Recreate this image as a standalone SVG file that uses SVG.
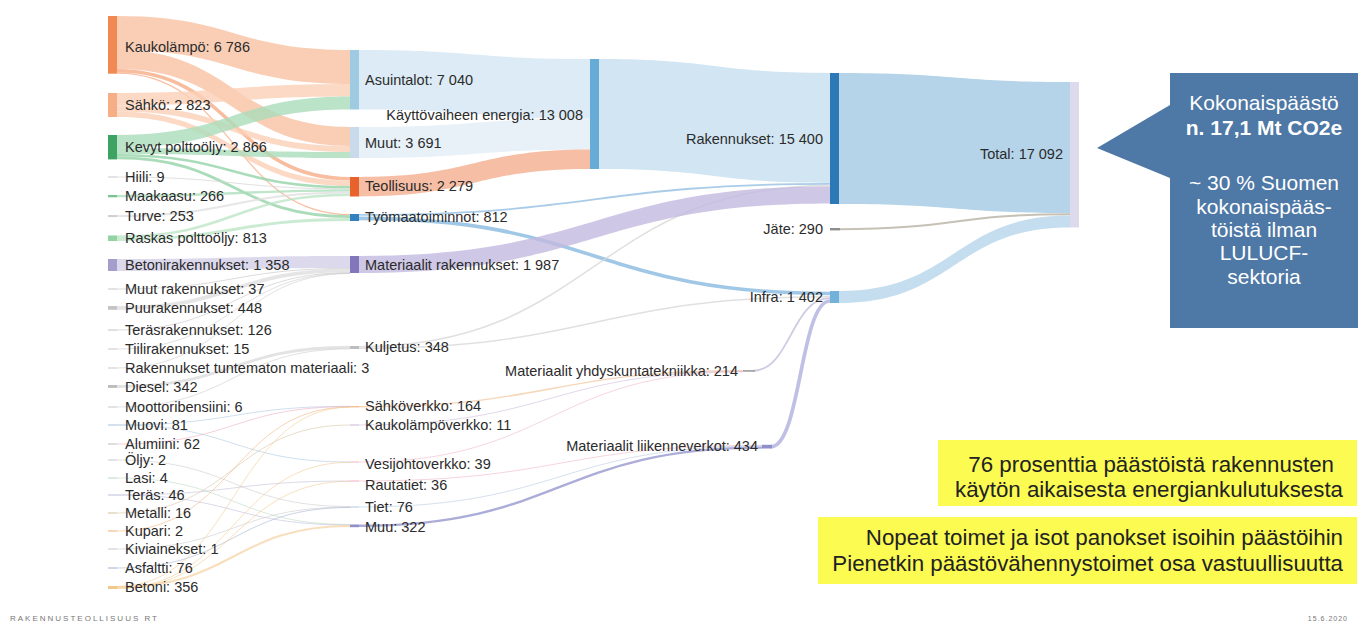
<svg xmlns="http://www.w3.org/2000/svg" width="1362" height="625" viewBox="0 0 1362 625">
<style>
text{font-family:"Liberation Sans",Arial,sans-serif;fill:#2b2b2b;font-size:14.5px}
.r{text-anchor:end}
.b{stroke:none;fill-opacity:.8}
.l{fill:none;stroke-opacity:.75}
.t{fill:none;stroke-width:1;stroke-opacity:.55}
.call{fill:#fff;font-size:21px;text-anchor:middle}
.yel{fill:#222;font-size:22.3px;text-anchor:end}
.foot{fill:#777;font-size:8px;letter-spacing:2px}
</style>
<rect width="1362" height="625" fill="#fff"/>
<g id="links">
<!-- energy sources to building groups -->
<path class="b" fill="#f9c2a2" d="M117 16 C233.5 16 233.5 50 350 50 L350 84 C233.5 84 233.5 50 117 50 Z"/>
<path class="b" fill="#f9c2a2" d="M117 50 C233.5 50 233.5 127 350 127 L350 146 C233.5 146 233.5 69 117 69 Z"/>
<path class="l" stroke="#f5a77f" stroke-width="3.5" d="M117 70.75 C233.5 70.75 233.5 178.75 350 178.75"/>
<path class="l" stroke="#f5a77f" stroke-width="1.2" d="M117 73.1 C233.5 73.1 233.5 214.6 350 214.6"/>
<path class="b" fill="#fbcfb6" d="M117 93 C233.5 93 233.5 84 350 84 L350 96.5 C233.5 96.5 233.5 105.5 117 105.5 Z"/>
<path class="b" fill="#fbcfb6" d="M117 105.5 C233.5 105.5 233.5 146 350 146 L350 152 C233.5 152 233.5 111.5 117 111.5 Z"/>
<path class="b" fill="#fbcfb6" d="M117 111.5 C233.5 111.5 233.5 180.5 350 180.5 L350 186 C233.5 186 233.5 117 117 117 Z"/>
<path class="b" fill="#aadcba" d="M117 135 C233.5 135 233.5 96.5 350 96.5 L350 109.5 C233.5 109.5 233.5 148 117 148 Z"/>
<path class="b" fill="#aadcba" d="M117 148 C233.5 148 233.5 152 350 152 L350 158 C233.5 158 233.5 154 117 154 Z"/>
<path class="l" stroke="#8fd0a3" stroke-width="2.5" d="M117 155.25 C233.5 155.25 233.5 187.25 350 187.25"/>
<path class="l" stroke="#8fd0a3" stroke-width="2.8" d="M117 157.9 C233.5 157.9 233.5 216.6 350 216.6"/>
<path class="l" stroke="#d5d5d5" stroke-width="1" d="M117 177 C233.5 177 233.5 188.85 350 188.85"/>
<path class="l" stroke="#a9dcb8" stroke-width="2.3" d="M117 196.15 C233.5 196.15 233.5 190.35 350 190.35"/>
<path class="l" stroke="#dedede" stroke-width="2.1" d="M117 216.05 C233.5 216.05 233.5 192.55 350 192.55"/>
<path class="l" stroke="#b8e3c3" stroke-width="2.5" d="M117 236.75 C233.5 236.75 233.5 194.85 350 194.85"/>
<path class="l" stroke="#b8e3c3" stroke-width="3" d="M117 239.5 C233.5 239.5 233.5 219.5 350 219.5"/>
<!-- building materials -->
<path class="b" fill="#d3cfe8" d="M117 259 C233.5 259 233.5 256 350 256 L350 268 C233.5 268 233.5 271 117 271 Z"/>
<path class="t" stroke="#bdbdbd" d="M117 289 C233.5 289 233.5 268.4 350 268.4"/>
<path class="l" stroke="#dcdcdc" stroke-width="3.8" d="M117 308 C233.5 308 233.5 270.3 350 270.3"/>
<path class="t" stroke="#bdbdbd" d="M117 330 C233.5 330 233.5 272.7 350 272.7"/>
<path class="t" stroke="#c9c9c9" d="M117 349 C233.5 349 233.5 273.3 350 273.3"/>
<path class="t" stroke="#c9c9c9" d="M117 368 C233.5 368 233.5 273.5 350 273.5"/>
<!-- transport fuels -->
<path class="l" stroke="#dadada" stroke-width="2.9" d="M117 386.5 C233.5 386.5 233.5 347.3 350 347.3"/>
<path class="t" stroke="#c8c8c8" d="M117 407 C233.5 407 233.5 348.9 350 348.9"/>
<!-- infra materials -->
<path class="t" stroke="#a8c4de" d="M117 425 C233.5 425 233.5 406.3 350 406.3"/>
<path class="t" stroke="#a8c4de" d="M117 425 C233.5 425 233.5 462 350 462"/>
<path class="t" stroke="#e9a9bd" d="M117 444 C233.5 444 233.5 406.6 350 406.6"/>
<path class="t" stroke="#c9c9c9" d="M117 460 C233.5 460 233.5 506.5 350 506.5"/>
<path class="t" stroke="#b8d8c0" d="M117 478 C233.5 478 233.5 524.5 350 524.5"/>
<path class="t" stroke="#bcbcd8" d="M117 495 C233.5 495 233.5 481 350 481"/>
<path class="t" stroke="#bcbcd8" d="M117 495 C233.5 495 233.5 525 350 525"/>
<path class="t" stroke="#d6c1a0" d="M117 513 C233.5 513 233.5 425 350 425"/>
<path class="t" stroke="#f0b07a" d="M117 531 C233.5 531 233.5 407 350 407"/>
<path class="t" stroke="#c9c9c9" d="M117 549 C233.5 549 233.5 507 350 507"/>
<path class="t" stroke="#9fb0d0" d="M117 568 C233.5 568 233.5 507.5 350 507.5"/>
<path class="l" stroke="#f6d3a5" stroke-width="2" d="M117 587 C233.5 587 233.5 526 350 526"/>
<path class="t" stroke="#f3c68a" d="M117 586.5 C233.5 586.5 233.5 407.2 350 407.2"/>
<path class="t" stroke="#f3c68a" d="M117 588 C233.5 588 233.5 462.3 350 462.3"/>
<path class="t" stroke="#f3c68a" d="M117 588.5 C233.5 588.5 233.5 481.3 350 481.3"/>
<!-- infra groups to material categories -->
<path class="l" stroke="#f3c7a0" stroke-width="1.4" d="M359 406.7 C551 406.7 551 370.7 743 370.7"/>
<path class="t" stroke="#c8b7d8" d="M359 425 C551 425 551 371.5 743 371.5"/>
<path class="t" stroke="#eeb3c4" d="M359 462 C551 462 551 371.8 743 371.8"/>
<path class="t" stroke="#eeb0c0" d="M359 481 C560.5 481 560.5 445.3 762 445.3"/>
<path class="t" stroke="#b3c6e0" d="M359 507 C560.5 507 560.5 446 762 446"/>
<path class="l" stroke="#8f90cb" stroke-width="2.4" d="M359 525.8 C560.5 525.8 560.5 447.6 762 447.6"/>
<path class="l" stroke="#bdb9da" stroke-width="1.8" d="M752 371 C791 371 791 298.2 830 298.2"/>
<path class="l" stroke="#a9abd9" stroke-width="3.7" d="M771 446.7 C800.5 446.7 800.5 301 830 301"/>
<!-- building groups to use-phase energy -->
<path class="b" fill="#d3e6f2" d="M359 50 C474.5 50 474.5 59 590 59 L590 118.5 C474.5 118.5 474.5 109.5 359 109.5 Z"/>
<path class="b" fill="#e2ecf6" d="M359 127 C474.5 127 474.5 118.5 590 118.5 L590 149.5 C474.5 149.5 474.5 158 359 158 Z"/>
<path class="b" fill="#f4ae8e" d="M359 177 C474.5 177 474.5 149.5 590 149.5 L590 169 C474.5 169 474.5 196.5 359 196.5 Z"/>
<!-- to Rakennukset / Infra -->
<path class="b" fill="#c5dff0" d="M599 59 C714.5 59 714.5 73 830 73 L830 183 C714.5 183 714.5 169 599 169 Z"/>
<path class="l" stroke="#8dbbe0" stroke-width="1.8" d="M359 214.9 C594.5 214.9 594.5 183.9 830 183.9"/>
<path class="l" stroke="#80b5de" stroke-width="3.6" d="M359 218.4 C594.5 218.4 594.5 293.5 830 293.5"/>
<path class="l" stroke="#d6d6d6" stroke-width="1.6" d="M359 346.8 C594.5 346.8 594.5 185.6 830 185.6"/>
<path class="l" stroke="#d6d6d6" stroke-width="1.4" d="M359 348.3 C594.5 348.3 594.5 296.7 830 296.7"/>
<path class="b" fill="#c2b9df" d="M359 256 C594.5 256 594.5 186.4 830 186.4 L830 203.4 C594.5 203.4 594.5 273 359 273 Z"/>
<!-- to Total -->
<path class="b" fill="#a3c9e3" d="M839 73 C954.5 73 954.5 82 1070 82 L1070 213 C954.5 213 954.5 204 839 204 Z"/>
<path class="l" stroke="#b3ab9c" stroke-width="2" d="M839 229.2 C954.5 229.2 954.5 214.2 1070 214.2"/>
<path class="b" fill="#b5d5eb" d="M839 291 C954.5 291 954.5 215.4 1070 215.4 L1070 227.4 C954.5 227.4 954.5 303 839 303 Z"/>
</g>

<g id="n-kaukolampo"><rect x="108" y="16" width="9" height="57.7" fill="#f08a52"/><text x="125" y="52">Kaukolämpö: 6 786</text></g>
<g id="n-sahko"><rect x="108" y="93" width="9" height="24" fill="#f7ad86"/><text x="125" y="110">Sähkö: 2 823</text></g>
<g id="n-kevyt"><rect x="108" y="135" width="9" height="24.4" fill="#3da362"/><text x="125" y="152">Kevyt polttoöljy: 2 866</text></g>
<g id="n-hiili"><rect x="108" y="176.5" width="9" height="1" fill="#c8c8c8"/><text x="125" y="182">Hiili: 9</text></g>
<g id="n-maakaasu"><rect x="108" y="195" width="9" height="2.3" fill="#79c48f"/><text x="125" y="201">Maakaasu: 266</text></g>
<g id="n-turve"><rect x="108" y="215" width="9" height="2.1" fill="#d0d0d0"/><text x="125" y="221">Turve: 253</text></g>
<g id="n-raskas"><rect x="108" y="235.5" width="9" height="5.5" fill="#92d3a3"/><text x="125" y="243">Raskas polttoöljy: 813</text></g>
<g id="n-betonirak"><rect x="108" y="259" width="9" height="12" fill="#a39ecb"/><text x="125" y="270">Betonirakennukset: 1 358</text></g>
<g id="n-muutrak"><rect x="108" y="288.5" width="9" height="1" fill="#c8c8c8"/><text x="125" y="294">Muut rakennukset: 37</text></g>
<g id="n-puurak"><rect x="108" y="306" width="9" height="3.8" fill="#c4c4c4"/><text x="125" y="313">Puurakennukset: 448</text></g>
<g id="n-terasrak"><rect x="108" y="329.5" width="9" height="1.1" fill="#c8c8c8"/><text x="125" y="335">Teräsrakennukset: 126</text></g>
<g id="n-tiilirak"><rect x="108" y="348.5" width="9" height="1" fill="#c8c8c8"/><text x="125" y="354">Tiilirakennukset: 15</text></g>
<g id="n-tuntematon"><rect x="108" y="367.5" width="9" height="1" fill="#c8c8c8"/><text x="125" y="373">Rakennukset tuntematon materiaali: 3</text></g>
<g id="n-diesel"><rect x="108" y="385" width="9" height="2.9" fill="#bdbdbd"/><text x="125" y="392">Diesel: 342</text></g>
<g id="n-moottori"><rect x="108" y="406.5" width="9" height="1" fill="#c8c8c8"/><text x="125" y="412">Moottoribensiini: 6</text></g>
<g id="n-muovi"><rect x="108" y="424.5" width="9" height="1" fill="#a8c4de"/><text x="125" y="430">Muovi: 81</text></g>
<g id="n-alumiini"><rect x="108" y="443.5" width="9" height="1" fill="#bdbdbd"/><text x="125" y="449">Alumiini: 62</text></g>
<g id="n-oljy"><rect x="108" y="459.5" width="9" height="1" fill="#c8c8c8"/><text x="125" y="465">Öljy: 2</text></g>
<g id="n-lasi"><rect x="108" y="477.5" width="9" height="1" fill="#b8d8c0"/><text x="125" y="483">Lasi: 4</text></g>
<g id="n-teras"><rect x="108" y="494.5" width="9" height="1" fill="#bcbcd8"/><text x="125" y="500">Teräs: 46</text></g>
<g id="n-metalli"><rect x="108" y="512.5" width="9" height="1" fill="#d6c1a0"/><text x="125" y="518">Metalli: 16</text></g>
<g id="n-kupari"><rect x="108" y="530.5" width="9" height="1" fill="#f0b07a"/><text x="125" y="536">Kupari: 2</text></g>
<g id="n-kiviainekset"><rect x="108" y="548.5" width="9" height="1" fill="#c8c8c8"/><text x="125" y="554">Kiviainekset: 1</text></g>
<g id="n-asfaltti"><rect x="108" y="567.5" width="9" height="1" fill="#9fb0d0"/><text x="125" y="573">Asfaltti: 76</text></g>
<g id="n-betoni"><rect x="108" y="586" width="9" height="3" fill="#f3c68a"/><text x="125" y="592">Betoni: 356</text></g>

<g id="n-asuintalot"><rect x="350" y="50" width="9" height="59.5" fill="#9ecbe1"/><text x="365" y="85">Asuintalot: 7 040</text></g>
<g id="n-muut"><rect x="350" y="127" width="9" height="31" fill="#c9dbeb"/><text x="365" y="148">Muut: 3 691</text></g>
<g id="n-teollisuus"><rect x="350" y="177" width="9" height="19.5" fill="#e8622d"/><text x="365" y="191">Teollisuus: 2 279</text></g>
<g id="n-tyomaa"><rect x="350" y="214" width="9" height="7" fill="#3181bf"/><text x="365" y="222">Työmaatoiminnot: 812</text></g>
<g id="n-matrak"><rect x="350" y="256" width="9" height="17" fill="#8377bb"/><text x="365" y="270">Materiaalit rakennukset: 1 987</text></g>
<g id="n-kuljetus"><rect x="350" y="346" width="9" height="3" fill="#bdbdbd"/><text x="365" y="352">Kuljetus: 348</text></g>
<g id="n-sahkoverkko"><rect x="350" y="406" width="9" height="1.4" fill="#f1bf92"/><text x="365" y="411">Sähköverkko: 164</text></g>
<g id="n-kaukoverkko"><rect x="350" y="424.5" width="9" height="1" fill="#c8b7d8"/><text x="365" y="430">Kaukolämpöverkko: 11</text></g>
<g id="n-vesijohto"><rect x="350" y="461.5" width="9" height="1" fill="#eeb3c4"/><text x="365" y="469">Vesijohtoverkko: 39</text></g>
<g id="n-rautatiet"><rect x="350" y="480.5" width="9" height="1" fill="#eeb0c0"/><text x="365" y="490">Rautatiet: 36</text></g>
<g id="n-tiet"><rect x="350" y="506.5" width="9" height="1" fill="#b3c6e0"/><text x="365" y="512">Tiet: 76</text></g>
<g id="n-muu"><rect x="350" y="524.5" width="9" height="2.7" fill="#8f90cb"/><text x="365" y="532">Muu: 322</text></g>

<g id="n-kayttovaihe"><rect x="590" y="59" width="9" height="110" fill="#67acd7"/><text class="r" x="583" y="119.5">Käyttövaiheen energia: 13 008</text></g>
<g id="n-matyhd"><rect x="743" y="370" width="12" height="1.8" fill="#a9a9a9"/><text class="r" x="738" y="376">Materiaalit yhdyskuntatekniikka: 214</text></g>
<g id="n-matliik"><rect x="762" y="444.8" width="10" height="3.7" fill="#8f90cb"/><text class="r" x="758" y="451">Materiaalit liikenneverkot: 434</text></g>

<g id="n-rakennukset"><rect x="830" y="73" width="9" height="131" fill="#2c79b5"/><text class="r" x="823" y="144">Rakennukset: 15 400</text></g>
<g id="n-jate"><rect x="830" y="228" width="10" height="2.4" fill="#8e8e8e"/><text class="r" x="823" y="234">Jäte: 290</text></g>
<g id="n-infra"><rect x="830" y="291" width="9" height="12" fill="#72b1d9"/><text class="r" x="823" y="302">Infra: 1 402</text></g>

<g id="n-total"><rect x="1070" y="82" width="9" height="145.4" fill="#dddaed"/><text class="r" x="1063" y="159">Total: 17 092</text></g>

<g id="callout">
<path d="M1170 73 H1358 V328 H1170 V178 L1097 148 L1170 105 Z" fill="#4e78a5"/>
<text class="call" x="1264" y="110">Kokonaispäästö</text>
<text class="call" x="1264" y="135" font-weight="bold">n. 17,1 Mt CO2e</text>
<text class="call" x="1264" y="190">~ 30 % Suomen</text>
<text class="call" x="1264" y="214">kokonaispääs-</text>
<text class="call" x="1264" y="237">töistä ilman</text>
<text class="call" x="1264" y="260">LULUCF-</text>
<text class="call" x="1264" y="284">sektoria</text>
</g>

<g id="note1">
<rect x="938" y="440" width="419" height="66" fill="#fbfb52"/>
<text class="yel" x="1334" y="472">76 prosenttia päästöistä rakennusten</text>
<text class="yel" x="1343" y="497">käytön aikaisesta energiankulutuksesta</text>
</g>
<g id="note2">
<rect x="818" y="517" width="539" height="67" fill="#fbfb52"/>
<text class="yel" x="1343" y="545">Nopeat toimet ja isot panokset isoihin päästöihin</text>
<text class="yel" x="1343" y="571">Pienetkin päästövähennystoimet osa vastuullisuutta</text>
</g>

<g id="footer">
<text class="foot" x="10" y="621">RAKENNUSTEOLLISUUS RT</text>
<text class="foot" x="1348" y="621" text-anchor="end" style="font-size:7px;letter-spacing:1px">15.6.2020</text>
</g>
</svg>
